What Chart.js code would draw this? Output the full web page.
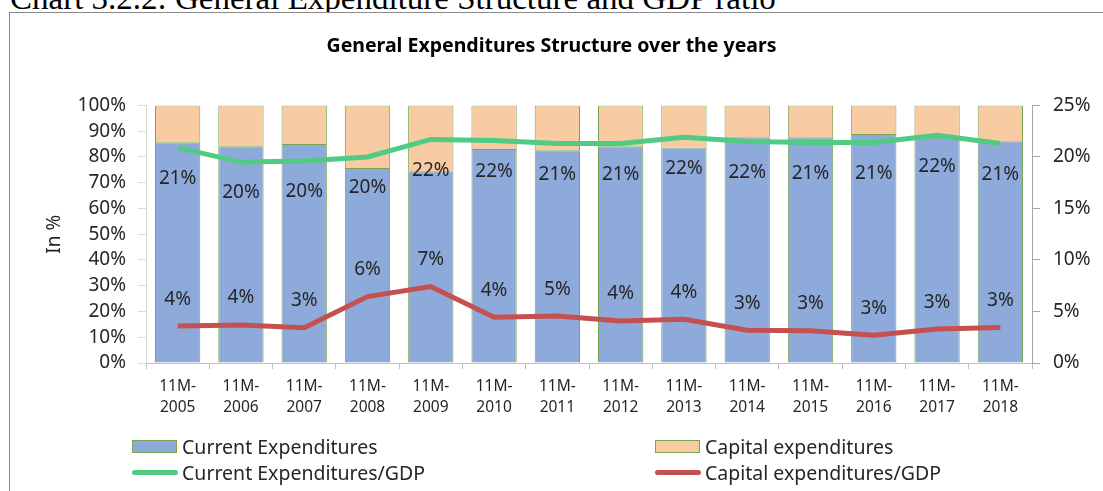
<!DOCTYPE html>
<html>
<head>
<meta charset="utf-8">
<script src="https://cdn.jsdelivr.net/npm/chart.js@4/dist/chart.umd.min.js"></script>
<style>
    html, body { margin: 0; padding: 0; background: #fff; overflow: hidden; }
    body { width: 1103px; height: 491px; position: relative; font-family: "Noto Sans", sans-serif; }
    #caption {
        position: absolute; left: 10px; top: -20px;
        font-family: "Liberation Serif", "Times New Roman", serif; font-size: 33px;
        line-height: 36px; color: #000; white-space: nowrap;
    }
    #frame {
        position: absolute; left: 9px; top: 12px; width: 1110px; height: 500px;
        border: 1px solid #8a8a8a; box-sizing: border-box; background: #fff;
    }
    #chartBox { position: absolute; left: 0; top: 0; width: 1103px; height: 491px; }
    #legend { position: absolute; left: 0; top: 0; width: 1103px; height: 491px; pointer-events: none; }
    .item {
        position: absolute; display: flex; align-items: center; height: 24px;
        font-size: 19.5px; color: #262626; white-space: nowrap;
    }
    .swatch { box-sizing: border-box; margin-right: 5px; }
</style>
</head>
<body>
<div id="caption">Chart 3.2.2: General Expenditure Structure and GDP ratio</div>
<div id="frame"></div>
<div id="chartBox"><canvas id="expChart" width="1103" height="491"></canvas></div>
<div id="legend"></div>
<script>
// ===============================
// Data
// ===============================
const years = ["2005", "2006", "2007", "2008", "2009", "2010", "2011",
               "2012", "2013", "2014", "2015", "2016", "2017", "2018"];
const periodLabels = years.map((y) => ["11M-", y]);

// share of total spending, % (left axis)
const currentShare = [85.7, 84.1, 85.0, 75.7, 74.4, 83.1, 82.6, 84.1, 83.7, 87.6, 87.6, 88.9, 87.4, 86.1];
const capitalShare = [14.3, 15.9, 15.0, 24.3, 25.6, 16.9, 17.4, 15.9, 16.3, 12.4, 12.4, 11.1, 12.6, 13.9];

// ratio to GDP, % (right axis)
const currentToGdp = [20.9, 19.5, 19.6, 20.0, 21.7, 21.6, 21.3, 21.3, 21.9, 21.5, 21.4, 21.4, 22.1, 21.3];
const capitalToGdp = [3.58, 3.68, 3.42, 6.45, 7.42, 4.43, 4.55, 4.07, 4.24, 3.19, 3.13, 2.70, 3.29, 3.45];

const shareTicks = [0, 10, 20, 30, 40, 50, 60, 70, 80, 90, 100];
const gdpTicks = [0, 5, 10, 15, 20, 25];

const COLORS = {
    current: "#8eaadb",
    capital: "#f8cba2",
    barBorder: "#79a553",
    currentLine: "#4fcb84",
    capitalLine: "#c4514f",
    text: "#262626",
    axis: "#bfbfbf",
};

// draws the rounded GDP ratios next to each line point
const pointLabels = {
    id: "pointLabels",
    afterDatasetsDraw(chart) {
        const ctx = chart.ctx;
        ctx.save();
        ctx.font = "19px 'Noto Sans', sans-serif";
        ctx.fillStyle = COLORS.text;
        ctx.textAlign = "center";
        ctx.textBaseline = "middle";
        chart.data.datasets.forEach((ds, i) => {
            if (ds.type !== "line") return;
            const meta = chart.getDatasetMeta(i);
            meta.data.forEach((pt, j) => {
                ctx.fillText(Math.round(ds.data[j]) + "%", pt.x, pt.y + ds.labelShift);
            });
        });
        ctx.restore();
    },
};

const fixSize = (prop, value) => (scale) => { scale[prop] = value; };

const chart = new Chart(document.getElementById("expChart"), {
    data: {
        labels: periodLabels,
        datasets: [
            {
                type: "line", label: "Current Expenditures/GDP", data: currentToGdp, yAxisID: "y1",
                borderColor: COLORS.currentLine, backgroundColor: COLORS.currentLine,
                borderWidth: 5, pointRadius: 0, tension: 0, order: 0, labelShift: 31,
            },
            {
                type: "line", label: "Capital expenditures/GDP", data: capitalToGdp, yAxisID: "y1",
                borderColor: COLORS.capitalLine, backgroundColor: COLORS.capitalLine,
                borderWidth: 5, pointRadius: 0, tension: 0, order: 0, labelShift: -27,
            },
            {
                type: "bar", label: "Current Expenditures", data: currentShare, stack: "share",
                backgroundColor: COLORS.current, borderColor: COLORS.barBorder, borderWidth: 1,
                order: 1,
            },
            {
                type: "bar", label: "Capital expenditures", data: capitalShare, stack: "share",
                backgroundColor: COLORS.capital, borderColor: COLORS.barBorder, borderWidth: 1,
                order: 1,
            },
        ],
    },
    options: {
        responsive: false,
        animation: false,
        layout: { padding: { left: 0, right: 0, top: 0, bottom: 68 } },
        datasets: { bar: { barPercentage: 0.716, categoryPercentage: 1 } },
        plugins: {
            legend: { display: false },
            tooltip: { enabled: false },
            title: {
                display: true,
                text: "General Expenditures Structure over the years",
                color: "#000",
                font: { family: "'Noto Sans', sans-serif", size: 19.5, weight: "bold" },
                padding: { top: 35, bottom: 47 },
            },
        },
        scales: {
            x: {
                stacked: true,
                afterFit: fixSize("height", 60),
                grid: { drawOnChartArea: false, drawTicks: true, tickLength: 6, color: COLORS.axis, offset: true },
                border: { display: true, color: COLORS.axis },
                ticks: {
                    color: COLORS.text, padding: 8, maxRotation: 0, autoSkip: false,
                    font: { family: "'Noto Sans', sans-serif", size: 15.5, lineHeight: 1.3 },
                },
            },
            y: {
                position: "left",
                stacked: true,
                min: 0, max: 100,
                afterFit: fixSize("width", 146),
                afterBuildTicks: (scale) => { scale.ticks = shareTicks.map((v) => ({ value: v })); },
                grid: { drawOnChartArea: false, drawTicks: true, tickLength: 8, color: "#d9d9d9" },
                border: { display: true, color: "#d9d9d9" },
                ticks: {
                    color: COLORS.text, padding: 12, autoSkip: false,
                    font: { family: "'Noto Sans', sans-serif", size: 19 },
                    callback: (v) => v + "%",
                },
                title: {
                    display: true, text: "In %", color: COLORS.text,
                    font: { family: "'Noto Sans', sans-serif", size: 19 },
                    padding: { top: 43, bottom: 0 },
                },
            },
            y1: {
                position: "right",
                min: 0, max: 25,
                afterFit: fixSize("width", 71),
                afterBuildTicks: (scale) => { scale.ticks = gdpTicks.map((v) => ({ value: v })); },
                grid: { drawOnChartArea: false, drawTicks: true, tickLength: 8, color: "#a6a6a6" },
                border: { display: true, color: "#a6a6a6" },
                ticks: {
                    color: COLORS.text, padding: 13, autoSkip: false,
                    font: { family: "'Noto Sans', sans-serif", size: 19 },
                    callback: (v) => v + "%",
                },
            },
        },
    },
    plugins: [pointLabels],
});

// ===============================
// Legend (two columns, built from the chart's datasets)
// ===============================
function buildLegend() {
    const box = document.getElementById("legend");
    const slots = {
        "Current Expenditures": [132, 434],
        "Capital expenditures": [655, 434],
        "Current Expenditures/GDP": [132, 460],
        "Capital expenditures/GDP": [655, 460],
    };
    chart.data.datasets.forEach((ds) => {
        const [left, top] = slots[ds.label];
        const item = document.createElement("div");
        item.className = "item";
        item.style.left = left + "px";
        item.style.top = top + "px";
        const sw = document.createElement("span");
        sw.className = "swatch";
        if (ds.type === "bar") {
            sw.style.cssText = `width:45px;height:13px;background:${ds.backgroundColor};border:1px solid ${ds.borderColor};`;
        } else {
            sw.style.cssText = `width:46px;height:5px;background:${ds.borderColor};border-radius:3px;margin-right:4px;`;
        }
        const txt = document.createElement("span");
        txt.textContent = ds.label;
        item.appendChild(sw);
        item.appendChild(txt);
        box.appendChild(item);
    });
}
buildLegend();
</script>
</body>
</html>
